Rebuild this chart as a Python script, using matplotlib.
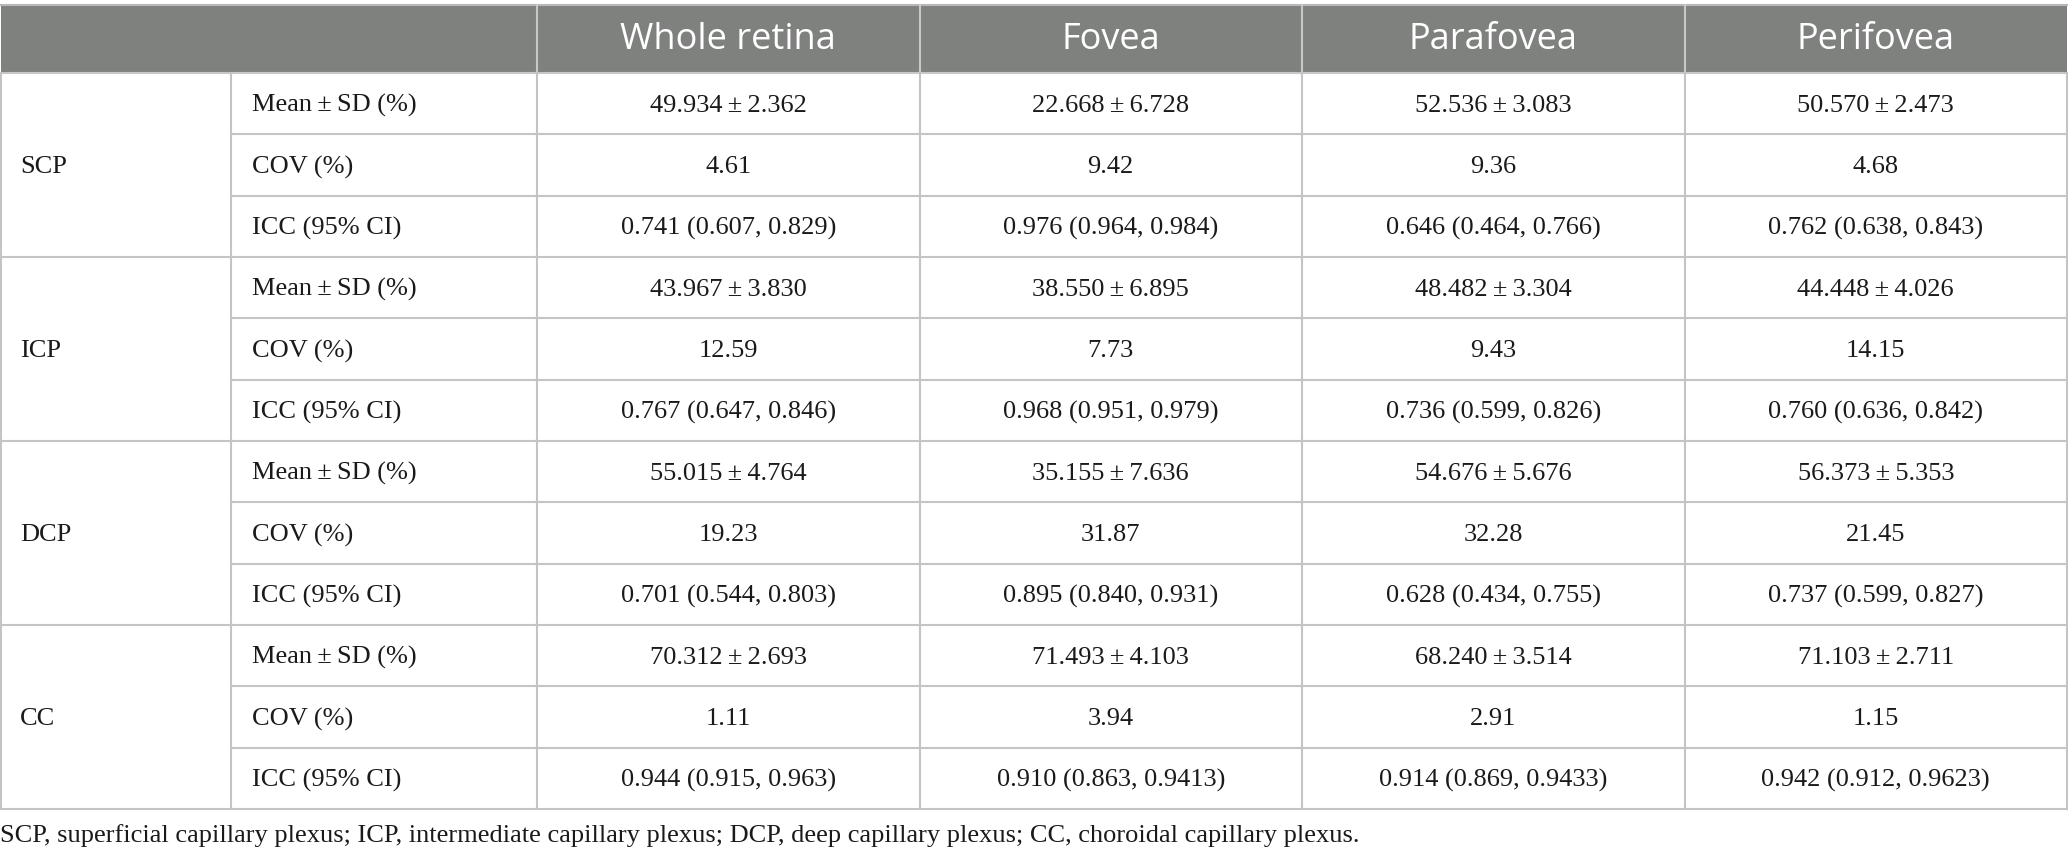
import matplotlib
matplotlib.use("Agg")
import matplotlib.pyplot as plt

# table content
regions = ["Whole retina", "Fovea", "Parafovea", "Perifovea"]
plexuses = ["SCP", "ICP", "DCP", "CC"]
measures = ["Mean\u2009\u00b1\u2009SD (%)", "COV (%)", "ICC (95% CI)"]

mean_sd = [
    ["49.934\u2009\u00b1\u20092.362", "22.668\u2009\u00b1\u20096.728", "52.536\u2009\u00b1\u20093.083", "50.570\u2009\u00b1\u20092.473"],
    ["43.967\u2009\u00b1\u20093.830", "38.550\u2009\u00b1\u20096.895", "48.482\u2009\u00b1\u20093.304", "44.448\u2009\u00b1\u20094.026"],
    ["55.015\u2009\u00b1\u20094.764", "35.155\u2009\u00b1\u20097.636", "54.676\u2009\u00b1\u20095.676", "56.373\u2009\u00b1\u20095.353"],
    ["70.312\u2009\u00b1\u20092.693", "71.493\u2009\u00b1\u20094.103", "68.240\u2009\u00b1\u20093.514", "71.103\u2009\u00b1\u20092.711"],
]
cov = [
    ["4.61", "9.42", "9.36", "4.68"],
    ["12.59", "7.73", "9.43", "14.15"],
    ["19.23", "31.87", "32.28", "21.45"],
    ["1.11", "3.94", "2.91", "1.15"],
]
icc = [
    ["0.741 (0.607, 0.829)", "0.976 (0.964, 0.984)", "0.646 (0.464, 0.766)", "0.762 (0.638, 0.843)"],
    ["0.767 (0.647, 0.846)", "0.968 (0.951, 0.979)", "0.736 (0.599, 0.826)", "0.760 (0.636, 0.842)"],
    ["0.701 (0.544, 0.803)", "0.895 (0.840, 0.931)", "0.628 (0.434, 0.755)", "0.737 (0.599, 0.827)"],
    ["0.944 (0.915, 0.963)", "0.910 (0.863, 0.9413)", "0.914 (0.869, 0.9433)", "0.942 (0.912, 0.9623)"],
]
footnote = ("SCP, superficial capillary plexus; ICP, intermediate capillary plexus; "
            "DCP, deep capillary plexus; CC, choroidal capillary plexus.")

W, H = 2068, 861
fig = plt.figure(figsize=(W / 100, H / 100), dpi=100)
ax = fig.add_axes([0, 0, 1, 1])
ax.set_xlim(0, W)
ax.set_ylim(H, 0)
ax.axis("off")

col_x = [1, 231, 537, 919.5, 1302, 1684.5, 2067]
head_top, head_bot, tab_bot = 5, 73, 809
row_h = (tab_bot - head_bot) / 12
line_c = "#c4c4c4"
head_c = "#7f817f"
txt_c = "#1a1a1a"
serif = ["Liberation Serif", "DejaVu Serif"]
fs = 19
lw = 1.5

# header band
ax.add_patch(plt.Rectangle((col_x[0], head_top), col_x[-1] - col_x[0], head_bot - head_top,
                           facecolor=head_c, edgecolor="none"))
ax.plot([col_x[0], col_x[-1]], [head_top, head_top], color="#b8b8b8", lw=lw)
for x in col_x[2:-1]:
    ax.plot([x, x], [head_top, head_bot], color="#c8c8c8", lw=lw)
for j, name in enumerate(regions):
    cx = (col_x[j + 2] + col_x[j + 3]) / 2
    ax.text(cx, (head_top + head_bot) / 2 + 1, name, ha="center", va="center",
            color="white", fontsize=26, family="Open Sans")

# body rows
rows = []
for p in range(len(plexuses)):
    rows.append(mean_sd[p])
    rows.append(cov[p])
    rows.append(icc[p])

for r in range(12):
    y0 = head_bot + r * row_h
    yc = y0 + row_h / 2 + 2
    ax.text(col_x[1] + 21, yc, measures[r % 3], ha="left", va="center",
            color=txt_c, fontsize=fs, family=serif)
    for j, val in enumerate(rows[r]):
        cx = (col_x[j + 2] + col_x[j + 3]) / 2
        ax.text(cx, yc, val, ha="center", va="center", color=txt_c,
                fontsize=fs, family=serif)
    # horizontal line under row
    y1 = y0 + row_h
    if (r + 1) % 3 == 0:
        ax.plot([col_x[0], col_x[-1]], [y1, y1], color=line_c, lw=lw)
    else:
        ax.plot([col_x[1], col_x[-1]], [y1, y1], color=line_c, lw=lw)

for p, name in enumerate(plexuses):
    yc = head_bot + (p * 3 + 1.5) * row_h + 2
    ax.text(20, yc, name, ha="left", va="center", color=txt_c,
            fontsize=fs, family=serif)

ax.plot([col_x[0], col_x[-1]], [head_bot, head_bot], color="#c8c8c8", lw=lw)
for x in col_x:
    ax.plot([x, x], [head_bot, tab_bot], color=line_c, lw=lw)

ax.text(0, 836, footnote, ha="left", va="center", color=txt_c,
        fontsize=fs, family=serif)

fig.savefig("out.png", dpi=100)
